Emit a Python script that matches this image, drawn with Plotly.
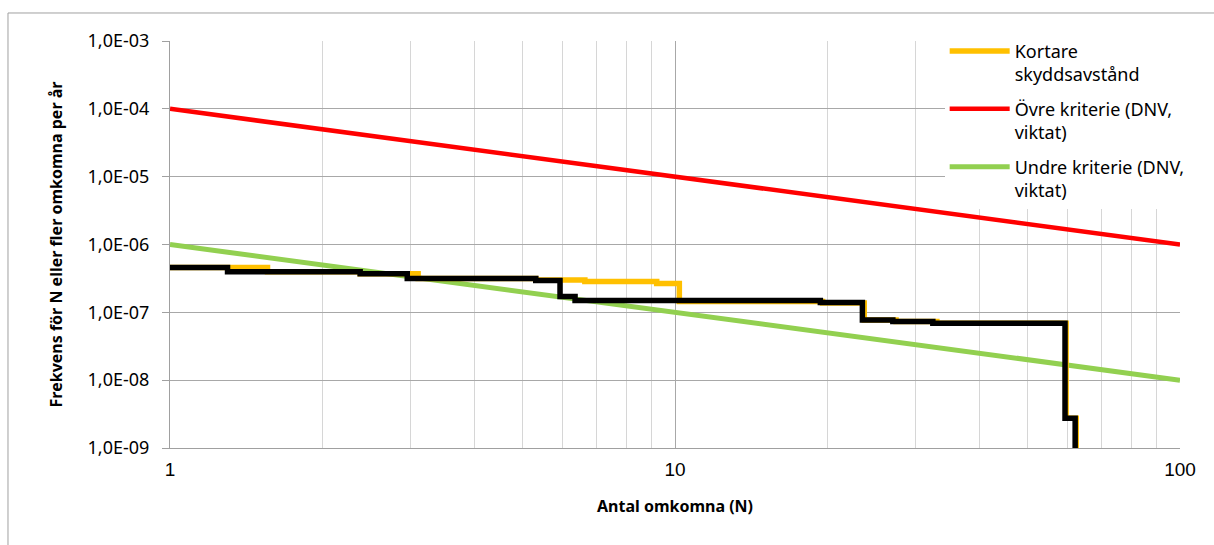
import plotly.graph_objects as go

# Data
N_yellow = [1, 1.56, 2.38, 3.10, 5.3, 6.63, 9.2, 10.2, 19.6, 23.7, 27.4, 33.0, 59.5, 62.3]
F_yellow = [4.6e-7, 3.96e-7, 3.7e-7, 3.15e-7, 3.0e-7, 2.85e-7, 2.65e-7, 1.45e-7, 1.37e-7, 7.7e-8, 7.3e-8, 6.9e-8, 2.75e-9, 1e-10]

N_black = [1, 1.30, 2.38, 2.95, 5.3, 5.92, 6.34, 19.4, 23.5, 27.0, 32.4, 59.2, 62.0]
F_black = [4.59e-7, 3.96e-7, 3.7e-7, 3.15e-7, 2.95e-7, 1.71e-7, 1.49e-7, 1.40e-7, 7.7e-8, 7.3e-8, 6.9e-8, 2.74e-9, 1e-10]

N_crit = [1, 100]
F_upper = [1e-4, 1e-6]
F_lower = [1e-6, 1e-8]

y_tickvals = [1e-9, 1e-8, 1e-7, 1e-6, 1e-5, 1e-4, 1e-3]
y_ticktext = ["1,0E-09", "1,0E-08", "1,0E-07", "1,0E-06", "1,0E-05", "1,0E-04", "1,0E-03"]
x_tickvals = [1, 10, 100]
x_ticktext = ["1", "10", "100"]

fig = go.Figure()
fig.add_trace(go.Scatter(x=N_crit, y=F_upper, mode="lines", name="Övre kriterie (DNV,<br>viktat)",
                         line=dict(color="#FF0000", width=4.5), legendrank=2, legendgroup="b"))
fig.add_trace(go.Scatter(x=N_crit, y=F_lower, mode="lines", name="Undre kriterie (DNV,<br>viktat)",
                         line=dict(color="#92D050", width=5), legendrank=3, legendgroup="c"))
fig.add_trace(go.Scatter(x=N_yellow, y=F_yellow, mode="lines", name="Kortare<br>skyddsavstånd",
                         line=dict(color="#FFC000", width=5.5, shape="hv"), legendrank=1, legendgroup="a"))
fig.add_trace(go.Scatter(x=N_black, y=F_black, mode="lines", name="Bas",
                         line=dict(color="#000000", width=5.5, shape="hv"), showlegend=False))

fig.update_layout(
    width=1214, height=545,
    margin=dict(l=170, r=34, t=41, b=97),
    paper_bgcolor="white", plot_bgcolor="white",
    font=dict(family="Noto Sans", color="black"),
    legend=dict(x=0.767, xanchor="left", y=1.02, yanchor="top",
                bgcolor="white", font=dict(size=18, family="Noto Sans"),
                valign="top", itemwidth=60, tracegroupgap=8),
    shapes=[dict(type="rect", xref="paper", yref="paper",
                 x0=-0.1604, x1=1.2, y0=-0.5, y1=1.0688,
                 line=dict(color="#A0A0A0", width=1), fillcolor="rgba(0,0,0,0)", layer="below")],
)
fig.update_xaxes(type="log", range=[0, 2], tickvals=x_tickvals, ticktext=x_ticktext,
                 tickfont=dict(family="Liberation Sans", size=19), ticklabelstandoff=4,
                 showgrid=True, gridcolor="#A8A8A8", gridwidth=1,
                 minor=dict(dtick="D1", showgrid=True, gridcolor="#D6D6D6", gridwidth=1),
                 showline=True, linecolor="#A0A0A0", linewidth=1, ticks="", zeroline=False,
                 title=dict(text="<b>Antal omkomna (N)</b>", font=dict(size=16, family="Noto Sans"), standoff=22))
fig.update_yaxes(type="log", range=[-9, -3], tickvals=y_tickvals, ticktext=y_ticktext,
                 tickfont=dict(family="Noto Sans", size=18), ticklabelstandoff=9,
                 showgrid=True, gridcolor="#A8A8A8", gridwidth=1,
                 showline=True, linecolor="#A0A0A0", linewidth=1,
                 ticks="outside", ticklen=7, tickcolor="#A0A0A0", zeroline=False,
                 title=dict(text="<b>Frekvens för N eller fler omkomna per år</b>", font=dict(size=16, family="Noto Sans"), standoff=20))

fig.write_html("out.html")
